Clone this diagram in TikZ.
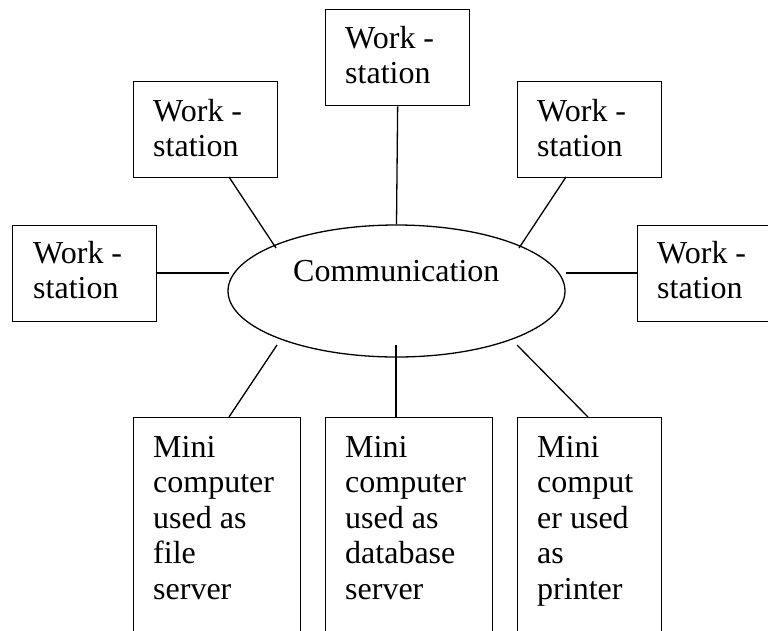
\documentclass[tikz,border=0pt]{standalone}
\usepackage{fontspec}
\setmainfont{Liberation Serif}
\usetikzlibrary{shapes.geometric}
\tikzset{
  wire/.style={line width=1.3pt},
  boxline/.style={draw, line width=1.3pt, rectangle, anchor=north west, inner sep=0pt},
  lbl/.style={anchor=base west, inner sep=0pt}
}
\newcommand{\boxtext}[2]{\parbox[t]{#1pt}{\raggedright\fontsize{32}{35.5}\selectfont #2}}
\begin{document}
\begin{tikzpicture}[x=1pt, y=-1pt]
\path[use as bounding box, clip] (0,0) rectangle (768,630);
\fill[white] (0,0) rectangle (768,630);

% workstation boxes
\node[boxline, minimum width=144pt, minimum height=96pt] (wsT) at (325,9) {};
\node[boxline, minimum width=144pt, minimum height=96pt] (wsTL) at (133,81) {};
\node[boxline, minimum width=144pt, minimum height=96pt] (wsTR) at (517,81) {};
\node[boxline, minimum width=144pt, minimum height=96pt] (wsL) at (12,225) {};
\node[boxline, minimum width=144pt, minimum height=96pt] (wsR) at (637,225) {};

\node[lbl] (tT) at (345,48) {\boxtext{130}{Work -\\station}};
\node[lbl] (tTL) at (153,121) {\boxtext{130}{Work -\\station}};
\node[lbl] (tTR) at (537,121) {\boxtext{130}{Work -\\station}};
\node[lbl] (tL) at (33,263) {\boxtext{130}{Work -\\station}};
\node[lbl] (tR) at (657,263) {\boxtext{130}{Work -\\station}};

% mini computer boxes
\node[boxline, minimum width=167pt, minimum height=240pt] (mcL) at (133,417) {};
\node[boxline, minimum width=167pt, minimum height=240pt] (mcM) at (325,417) {};
\node[boxline, minimum width=144pt, minimum height=240pt] (mcR) at (517,417) {};

\node[lbl] (tmL) at (153,457) {\boxtext{150}{Mini\\computer\\used as\\file\\server}};
\node[lbl] (tmM) at (345,457) {\boxtext{150}{Mini\\computer\\used as\\database\\server}};
\node[lbl] (tmR) at (537,457) {\boxtext{130}{Mini\\comput\\er used\\as\\printer}};

% communication ellipse
\node[ellipse, draw, line width=1.3pt, minimum width=337pt, minimum height=132pt, inner sep=0pt] (comm) at (396.5,291) {};
\node[lbl] (commT) at (293,281) {\fontsize{32}{35.5}\selectfont Communication};

% connector end points
\coordinate (aTL) at (229,177);
\coordinate (eTL) at (276,248);
\coordinate (aTR) at (566,177);
\coordinate (eTR) at (519,248);
\coordinate (eL) at (229,273);
\coordinate (eR) at (566,273);
\coordinate (aL) at (156,273);
\coordinate (aR) at (637,273);
\coordinate (eBL) at (277,345);
\coordinate (aBL) at (229,417);
\coordinate (eBM) at (396,345);
\coordinate (aBM) at (396,417);
\coordinate (eBR) at (517,345);
\coordinate (aBR) at (588,417);

\draw[wire] (wsT.south) -- (comm.north);
\draw[wire] (aTL) -- (eTL);
\draw[wire] (aTR) -- (eTR);
\draw[wire] (aL) -- (eL);
\draw[wire] (aR) -- (eR);
\draw[wire] (eBL) -- (aBL);
\draw[wire] (eBM) -- (aBM);
\draw[wire] (eBR) -- (aBR);
\end{tikzpicture}
\end{document}
